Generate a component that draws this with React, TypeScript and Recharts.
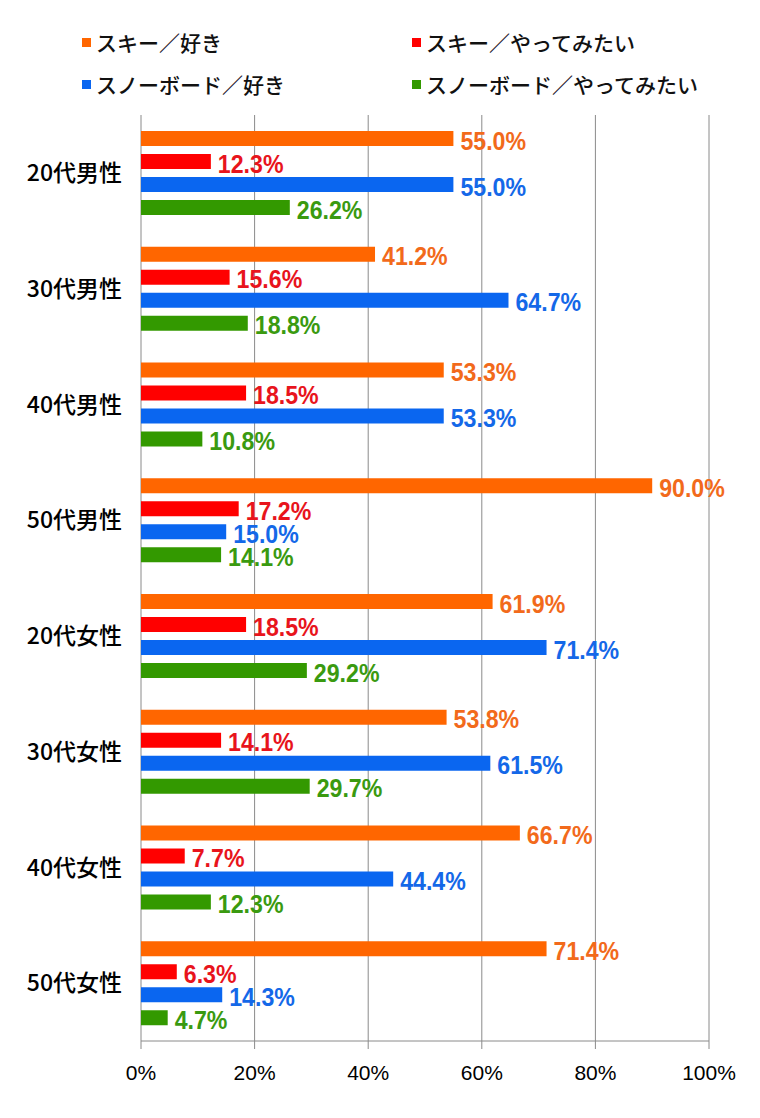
import React from 'react';
import { BarChart, Bar, XAxis, YAxis, CartesianGrid, Legend, LabelList } from 'recharts';

const categories = ['20代男性', '30代男性', '40代男性', '50代男性', '20代女性', '30代女性', '40代女性', '50代女性'];
const skiLike = [55.0, 41.2, 53.3, 90.0, 61.9, 53.8, 66.7, 71.4];
const skiWant = [12.3, 15.6, 18.5, 17.2, 18.5, 14.1, 7.7, 6.3];
const snowLike = [55.0, 64.7, 53.3, 15.0, 71.4, 61.5, 44.4, 14.3];
const snowWant = [26.2, 18.8, 10.8, 14.1, 29.2, 29.7, 12.3, 4.7];
const xTicks = [0, 20, 40, 60, 80, 100];
const boundaryTicks = [0, 1, 2, 3, 4, 5, 6, 7, 8];

const seriesNames = ['スキー／好き', 'スキー／やってみたい', 'スノーボード／好き', 'スノーボード／やってみたい'];
const seriesKeys = ['skiLike', 'skiWant', 'snowLike', 'snowWant'];
const seriesColors = ['#FF6600', '#FF0000', '#0A66F0', '#339900'];
const labelColors = ['#F26A1B', '#E8141C', '#1468E8', '#3A9A10'];

const data = categories.map((name, i) => ({
  name,
  skiLike: skiLike[i],
  skiWant: skiWant[i],
  snowLike: snowLike[i],
  snowWant: snowWant[i],
}));

const W = 752;
const H = 1110;

const renderLegend = (props: any) => {
  const payload: any[] = props.payload || [];
  return (
    <div style={{ position: 'relative', width: W, height: 90 }}>
      {seriesNames.map((name, i) => {
        const item = payload.find((p: any) => p.value === name);
        const color = item ? item.color : seriesColors[i];
        return (
          <div
            key={name}
            style={{
              position: 'absolute',
              left: i % 2 === 0 ? 74 : 404,
              top: Math.floor(i / 2) === 0 ? 2 : 44,
              display: 'flex',
              alignItems: 'center',
              fontFamily: '"Noto Sans CJK JP", sans-serif',
              fontSize: 21,
              fontWeight: 500,
              color: '#111',
              whiteSpace: 'nowrap',
            }}
          >
            <span style={{ display: 'inline-block', width: 9, height: 9, background: color, marginRight: 5 }} />
            <span>{name}</span>
          </div>
        );
      })}
    </div>
  );
};

const fmt = (v: any) => `${Number(v).toFixed(1)}%`;

const makeLabel = (color: string) => (props: any) => {
  const { x, y, width, height, value } = props;
  const tx = Number(x) + Number(width) + 7;
  const ty = Number(y) + Number(height) / 2 + 11;
  return (
    <text
      transform={`translate(${tx},${ty}) scale(0.89,1)`}
      x={0}
      y={0}
      fill={color}
      fontSize={26}
      fontWeight={700}
      fontFamily={'"Liberation Sans", Arial, sans-serif'}
    >
      {fmt(value)}
    </text>
  );
};

export default function App() {
  return (
    <div style={{ width: W, height: H }}>
      <BarChart
        width={W}
        height={H}
        data={data}
        layout="vertical"
        margin={{ top: 17, right: 51, bottom: 0, left: 0 }}
        barGap={8}
        barSize={15}
      >
        <CartesianGrid horizontal={false} vertical={true} stroke="#8a8a8a" strokeWidth={1} />
        <XAxis
          type="number"
          domain={[0, 100]}
          ticks={xTicks}
          tickFormatter={(v: any) => `${v}%`}
          axisLine={{ stroke: '#8a8a8a' }}
          tickLine={{ stroke: '#8a8a8a' }}
          tickSize={8}
          tickMargin={16}
          height={77}
          tick={{ fill: '#000', fontSize: 21, fontFamily: '"Liberation Sans", Arial, sans-serif' }}
        />
        <YAxis
          yAxisId="grid"
          type="number"
          domain={[0, 8]}
          ticks={boundaryTicks}
          width={0}
          tick={false}
          tickSize={7}
          axisLine={{ stroke: '#8a8a8a' }}
          tickLine={{ stroke: '#8a8a8a' }}
        />
        <YAxis
          yAxisId="cat"
          type="category"
          dataKey="name"
          width={133}
          axisLine={false}
          tickLine={false}
          tickSize={0}
          tickMargin={19}
          tick={{ fill: '#000', fontSize: 23, fontFamily: '"Noto Sans CJK JP", sans-serif', fontWeight: 500 }}
        />
        <Legend verticalAlign="top" content={renderLegend} wrapperStyle={{ left: 0, width: W, height: 90 }} />
        {seriesKeys.map((k, i) => (
          <Bar key={k} yAxisId="cat" dataKey={k} name={seriesNames[i]} fill={seriesColors[i]} isAnimationActive={false}>
            <LabelList dataKey={k} content={makeLabel(labelColors[i])} />
          </Bar>
        ))}
      </BarChart>
    </div>
  );
}
